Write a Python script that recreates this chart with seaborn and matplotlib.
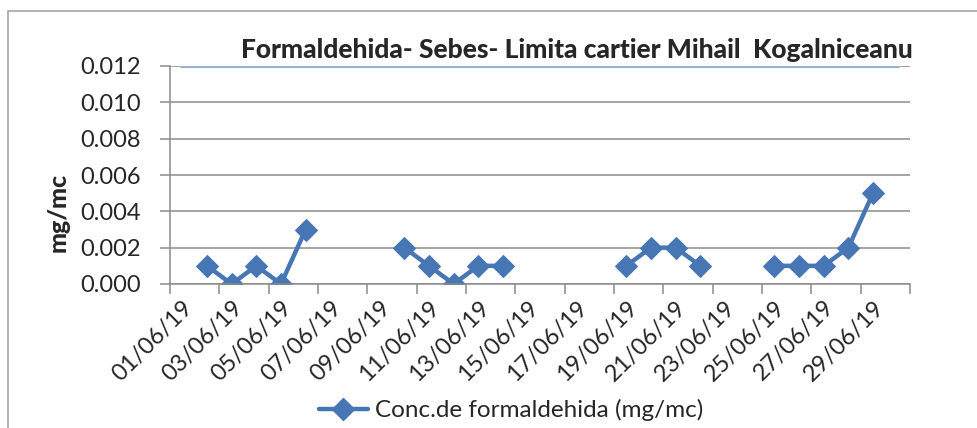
import pandas as pd
import numpy as np
import matplotlib
matplotlib.use("Agg")
import matplotlib.pyplot as plt
import matplotlib.transforms as mtrans
from matplotlib.patches import Rectangle
from matplotlib.lines import Line2D
import seaborn as sns

# Values
dates = ["02/06/19", "03/06/19", "04/06/19", "05/06/19", "06/06/19",
         "10/06/19", "11/06/19", "12/06/19", "13/06/19", "14/06/19",
         "19/06/19", "20/06/19", "21/06/19", "22/06/19",
         "25/06/19", "26/06/19", "27/06/19", "28/06/19", "29/06/19"]
conc = [0.001, 0.000, 0.001, 0.000, 0.003,
        0.002, 0.001, 0.000, 0.001, 0.001,
        0.001, 0.002, 0.002, 0.001,
        0.001, 0.001, 0.001, 0.002, 0.005]
limit_dates = ["01/06/19", "30/06/19"]
limit_value = [0.012, 0.012]
tick_labels = ["01/06/19", "03/06/19", "05/06/19", "07/06/19", "09/06/19",
               "11/06/19", "13/06/19", "15/06/19", "17/06/19", "19/06/19",
               "21/06/19", "23/06/19", "25/06/19", "27/06/19", "29/06/19"]

title = "Formaldehida- Sebes- Limita cartier Mihail  Kogalniceanu"
series_name = "Conc.de formaldehida (mg/mc)"

# Build a frame, day-of-month as x; a new segment where days are missing
df = pd.DataFrame({"date": pd.to_datetime(dates, format="%d/%m/%y"), "conc": conc})
df["day"] = df["date"].dt.day
df["segment"] = (df["day"].diff() > 1).cumsum()
lim = pd.DataFrame({"day": pd.to_datetime(limit_dates, format="%d/%m/%y").day,
                    "val": limit_value})
tick_days = pd.to_datetime(tick_labels, format="%d/%m/%y").day

sns.set_style("white")
plt.rcParams["font.family"] = ["Lato", "DejaVu Sans"]

blue = "#4676B4"
grey = "#8C8C8C"

fig = plt.figure(figsize=(9.78, 4.28), dpi=100)
ax = fig.add_axes([170/978, 1-284/428, 740/978, 218/428])

sns.lineplot(data=lim, x="day", y="val", color="#95B3D7", linewidth=3.0, ax=ax,
             legend=False)
sns.lineplot(data=df, x="day", y="conc", units="segment", estimator=None,
             color=blue, linewidth=3.2, marker="D", markersize=11.5,
             markeredgecolor=blue, ax=ax, legend=False)

ax.set_xlim(0.5, 30.5)
ax.set_ylim(0, 0.012)
ax.set_yticks(np.arange(0, 0.0121, 0.002))
ax.set_yticklabels([f"{v:.3f}" for v in np.arange(0, 0.0121, 0.002)], fontsize=17)
ax.yaxis.grid(True, color=grey, linewidth=1.1)
ax.set_axisbelow(True)

ax.set_xticks(tick_days)
ax.set_xticklabels(tick_labels, fontsize=17, rotation=45, ha="right",
                   va="top", rotation_mode="anchor")
shift = mtrans.ScaledTranslation(5/100, 0, fig.dpi_scale_trans)
for lab in ax.get_xticklabels():
    lab.set_transform(lab.get_transform() + shift)
ax.set_xticks(np.arange(0.5, 31, 2), minor=True)
ax.tick_params(axis="x", which="major", length=0, pad=9)
ax.tick_params(axis="x", which="minor", length=7, color=grey, width=1.1,
               direction="out", bottom=True)
ax.tick_params(axis="y", length=7, color=grey, width=1.1, direction="out",
               left=True, pad=14)

for s in ["top", "right"]:
    ax.spines[s].set_visible(False)
for s in ["left", "bottom"]:
    ax.spines[s].set_color(grey)
    ax.spines[s].set_linewidth(1.1)
ax.set_xlabel("")
ax.set_ylabel("")

fig.text(58/978, 1-212/428, "mg/mc", rotation=90, fontsize=18, fontweight="black",
         ha="center", va="center")
fig.text(577/978, 1-50/428, title, fontsize=19, fontweight="black",
         ha="center", va="center")

handle = Line2D([], [], color=blue, linewidth=3.2, marker="D", markersize=11.5)
fig.legend([handle], [series_name], loc="center", bbox_to_anchor=(511/978, 1-410/428),
           frameon=False, fontsize=17.5, handlelength=2.0, handletextpad=0.3)

fig.add_artist(Rectangle((8/978, -0.1), 1.2, 1.1 - 11/428, transform=fig.transFigure,
                         fill=False, edgecolor="#A6A6A6", linewidth=1.2))

fig.savefig("out.png", dpi=100)
